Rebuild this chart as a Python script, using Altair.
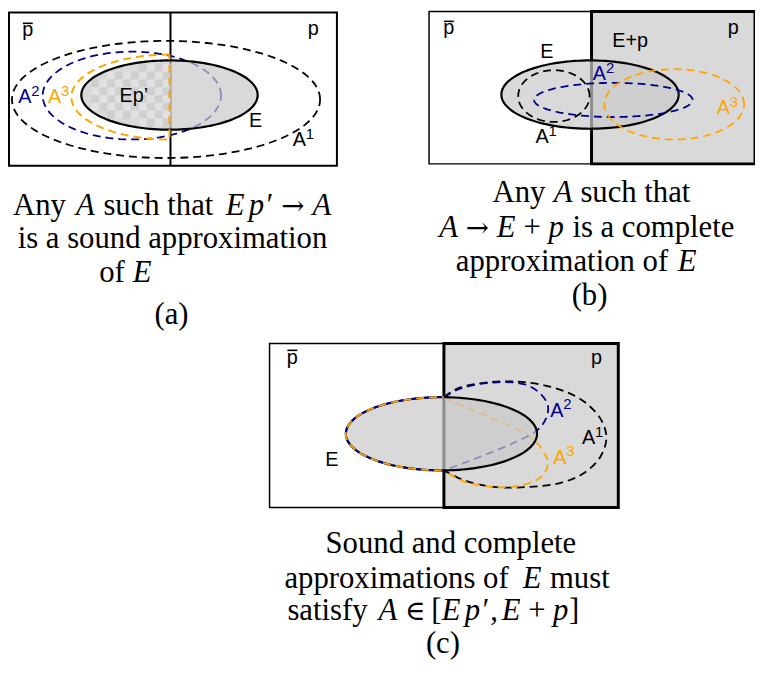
import math
import altair as alt
import pandas as pd

# ---------------- canvas (data coordinates = reference pixels) ----------------
W, H = 754, 670
X_DOMAIN = [8, 762]
Y_DOMAIN = [1.5, 681.5]

NAVY = "#00008b"
ORANGE = "#ffa500"
GRAY = "#d9d9d9"
EFILL = "#c9c9c9"
SANS = "Liberation Sans"
SERIF = "Liberation Serif"
SYMF = "DejaVu Serif"
CAP_SIZE = 31
SYM_SIZE = 28

# ---------------- panel boxes ----------------
box_x0 = [9, 433, 597, 272, 448]
box_x1 = [340, 597, 762, 448, 624]
box_y0 = [3, 2, 2, 342, 342]
box_y1 = [160, 158, 158, 510, 510]
box_fill = ["white", "white", GRAY, "white", GRAY]
box_sw = [2, 1.5, 3, 1.5, 3]

# divider of panel (a)
div_a_x = [172, 172]
div_a_y = [3, 160]

# ---------------- ellipses: cx, cy, rx, ry ----------------
ell_name = ["a_E", "a_A1", "a_A2", "b_E", "b_A1", "b_A2", "b_A3", "c_E"]
ell_cx = [171, 167.5, 133, 595.5, 559, 619, 680.5, 445.5]
ell_cy = [87.5, 92, 88, 87, 88.5, 92.5, 97, 434.5]
ell_rx = [89, 155.5, 90, 89.5, 36, 80, 70.5, 96.5]
ell_ry = [35.5, 60, 45, 35, 26.5, 17.5, 36, 37.5]

# half ellipse A3 of panel (a) (closed by the divider): cx, cy, rx, ry
a_A3 = [171, 89.5, 99, 43.5]

# panel (c): right-hand parts of A1, A2, A3 (curve control points)
c_A1_x = [448, 462, 490, 520, 545, 570, 590, 606, 612, 606, 589, 565, 532, 498, 468, 448]
c_A1_y = [397, 388, 382, 381, 384, 391, 402, 419, 438, 458, 475, 485, 489, 489, 482, 472]
c_A2_x = [448, 465, 498, 530, 546, 553, 551, 542, 520, 497, 472, 448]
c_A2_y = [397, 388, 382, 384, 394, 406, 419, 431, 443, 453, 463, 472]
c_A3_x = [448, 472, 497, 520, 538, 548, 553, 548, 528, 498, 467, 448]
c_A3_y = [398, 408, 419, 429, 440, 452, 464, 477, 487, 489, 483, 472]

# ---------------- labels inside the diagrams ----------------
lab_text = ["p", "p", "Ep’", "E", "p", "p", "E+p", "E", "p", "p", "E"]
lab_x = [28, 316, 135, 258, 453, 740, 636, 552, 295, 602, 335]
lab_y = [27, 26, 95, 120, 25, 25, 38, 50, 363, 363, 467]

# A-labels with superscript index: letter centre x, baseline y, index, colour
alab_x = [25, 55, 302, 605, 730, 547, 562, 594, 565]
alab_y = [96, 96, 140, 72, 107, 137, 417, 445, 465]
alab_sup = ["2", "3", "1", "2", "3", "1", "2", "1", "3"]
alab_color = [NAVY, ORANGE, "black", NAVY, ORANGE, "black", NAVY, "black", ORANGE]

# overline bars of p-bar
bar_x0 = [23, 448, 290]
bar_x1 = [33, 458, 300]
bar_y = [14, 12, 349]

# ---------------- captions ----------------
# token style: 0 upright, 1 italic, 2 math symbol ; "_" = math medium space, "~" thin space
cap_lines = [
    ([("Any", 0), (" ", 0), ("A", 1), (" ", 0), ("such that", 0), (" ", 0),
      ("E", 1), ("~", 0), ("p", 1), ("′", 1), ("_", 0), ("→", 2), ("_", 0), ("A", 1)], 13, 335, 210),
    ([("is a sound approximation", 0)], None, 174, 244),
    ([("of", 0), (" ", 0), ("E", 1)], 100, 153, 279),
    ([("(a)", 0)], None, 173, 322),
    ([("Any", 0), (" ", 0), ("A", 1), (" ", 0), ("such that", 0)], 497, 698, 197),
    ([("A", 1), ("_", 0), ("→", 2), ("_", 0), ("E", 1), ("_", 0), ("+", 0), ("_", 0),
      ("p", 1), (" ", 0), ("is a complete", 0)], 438, 753, 233),
    ([("approximation of", 0), (" ", 0), ("E", 1)], 460, 703, 268),
    ([("(b)", 0)], None, 595, 303),
    ([("Sound and complete", 0)], None, 455, 557),
    ([("approximations of", 0), (" ", 0), ("E", 1), (" ", 0), ("must", 0)], 287, 617, 592),
    ([("satisfy", 0), (" ", 0), ("A", 1), ("_", 0), ("∈", 2), ("_", 0), ("[", 0),
      ("E", 1), ("~", 0), ("p", 1), ("′", 1), (",", 0), ("~", 0), ("E", 1), ("_", 0),
      ("+", 0), ("_", 0), ("p", 1), ("]", 0)], 290, 585, 625),
    ([("(c)", 0)], None, 447, 659),
]

# approximate advance widths (1/1000 em) used to lay out mixed-style lines
UPRIGHT_W = {" ": 250, "_": 220, "~": 110, "A": 722, "S": 556, "n": 500, "y": 500,
             "s": 389, "u": 500, "c": 444, "h": 500, "t": 278, "a": 444, "i": 278,
             "o": 500, "d": 500, "p": 500, "r": 333, "x": 500, "m": 778, "f": 333,
             "e": 444, "l": 278, "b": 500, "(": 333, ")": 333, ",": 250, "[": 333,
             "]": 333, "+": 564}
ITALIC_W = {"A": 611, "E": 611, "p": 500, "′": 300}
SYM_W = {"→": 838, "∈": 667}
SPACES = (" ", "_", "~")


def tok_width(txt, st):
    if st == 2:
        return sum(SYM_W.get(ch, 700) for ch in txt) * SYM_SIZE / 1000.0
    tab = ITALIC_W if st == 1 else UPRIGHT_W
    return sum(tab.get(ch, UPRIGHT_W.get(ch, 500)) for ch in txt) * CAP_SIZE / 1000.0


rows = []
for toks, left, right, base in cap_lines:
    if left is None:
        rows.append({"t": toks[0][0], "x": right, "y": base, "st": 0, "ce": 1})
        continue
    widths = [tok_width(t, s) for t, s in toks]
    nat = sum(widths)
    s = min(max((right - left) / nat, 0.97), 1.04)
    start = (left + right) / 2 - nat * s / 2
    pos = 0.0
    for (t, st), w in zip(toks, widths):
        if t not in SPACES:
            rows.append({"t": t, "x": start + pos * s, "y": base, "st": st, "ce": 0})
        pos += w
df_cap = pd.DataFrame(rows)

# ---------------- helpers ----------------
XS = alt.Scale(domain=X_DOMAIN, nice=False, zero=False)
YS = alt.Scale(domain=Y_DOMAIN, nice=False, zero=False, reverse=True)


def X(f="x"):
    return alt.X(f"{f}:Q", scale=XS, axis=None)


def Y(f="y"):
    return alt.Y(f"{f}:Q", scale=YS, axis=None)


def ell(name):
    k = ell_name.index(name)
    return ell_cx[k], ell_cy[k], ell_rx[k], ell_ry[k]


def arc_pts(cx, cy, rx, ry, t0, t1, n=140):
    xs, ys = [], []
    for j in range(n + 1):
        t = t0 + (t1 - t0) * j / n
        xs.append(cx + rx * math.cos(t))
        ys.append(cy - ry * math.sin(t))
    return xs, ys


def path(xs, ys, color, dash=None, width=1.8, interp="linear", opacity=1.0, offset=0):
    df = pd.DataFrame({"x": xs, "y": ys, "i": list(range(len(xs)))})
    kw = dict(color=color, strokeWidth=width, interpolate=interp, opacity=opacity)
    if dash:
        kw["strokeDash"] = dash
        kw["strokeDashOffset"] = offset
    return alt.Chart(df).mark_line(**kw).encode(x=X(), y=Y(), order="i:Q")


def ellipse_line(name, color, dash=None, width=1.8, offset=0):
    cx, cy, rx, ry = ell(name)
    xs, ys = arc_pts(cx, cy, rx, ry, 0, 2 * math.pi)
    return path(xs, ys, color, dash, width, offset=offset)


def ellipse_fill(name, color, opacity):
    cx, cy, rx, ry = ell(name)
    n = 90
    xs, yt, yb = [], [], []
    for j in range(n + 1):
        t = math.pi - math.pi * j / n
        xs.append(cx + rx * math.cos(t))
        yt.append(cy - ry * math.sin(t))
        yb.append(cy + ry * math.sin(t))
    df = pd.DataFrame({"x": xs, "yt": yt, "yb": yb})
    return alt.Chart(df).mark_area(color=color, opacity=opacity).encode(
        x=X(), y=Y("yt"), y2=alt.Y2("yb:Q"))


DASH = [8, 5]
layers = []

# boxes
df_box = pd.DataFrame({"x0": box_x0, "x1": box_x1, "y0": box_y0, "y1": box_y1})
for k in range(len(box_x0)):
    layers.append(alt.Chart(df_box.iloc[[k]]).mark_rect(
        fill=box_fill[k], stroke="black", strokeWidth=box_sw[k]).encode(
        x=X("x0"), x2=alt.X2("x1:Q"), y=Y("y0"), y2=alt.Y2("y1:Q")))

# ---- panel (a)
layers.append(path(div_a_x, div_a_y, "black", width=2))
layers.append(ellipse_line("a_A2", NAVY, DASH))
layers.append(ellipse_fill("a_E", EFILL, 0.7))
# checker pattern on the Ep' part of E
cx, cy, rx, ry = ell("a_E")
cells = {"x0": [], "x1": [], "y0": [], "y1": [], "c": []}
for ix in range(12):
    x1 = div_a_x[0] - ix * 8
    x0 = x1 - 8
    for iy in range(-6, 6):
        y0 = cy + iy * 8
        y1 = y0 + 8
        inside = all(((px - cx) / rx) ** 2 + ((py - cy) / ry) ** 2 <= 1
                     for px in (x0, x1) for py in (y0, y1))
        if inside:
            cells["x0"].append(x0)
            cells["x1"].append(x1)
            cells["y0"].append(y0)
            cells["y1"].append(y1)
            cells["c"].append("#e1e1e1" if (ix + iy) % 2 == 0 else "#cfcfcf")
layers.append(alt.Chart(pd.DataFrame(cells)).mark_rect().encode(
    x=X("x0"), x2=alt.X2("x1:Q"), y=Y("y0"), y2=alt.Y2("y1:Q"),
    color=alt.Color("c:N", scale=None)))
layers.append(ellipse_line("a_E", "black", width=2.2))
hx, hy = arc_pts(a_A3[0], a_A3[1], a_A3[2], a_A3[3], math.pi / 2, 3 * math.pi / 2)
hx = hx + [hx[0]]
hy = hy + [hy[0]]
layers.append(path(hx, hy, ORANGE, DASH, width=2))
layers.append(ellipse_line("a_A1", "black", DASH))

# ---- panel (b)
layers.append(ellipse_fill("b_E", EFILL, 0.7))
layers.append(ellipse_line("b_E", "black", width=2.2))
layers.append(ellipse_line("b_A1", "black", DASH))
layers.append(ellipse_line("b_A2", NAVY, DASH))
layers.append(ellipse_line("b_A3", ORANGE, DASH))

# ---- panel (c)
layers.append(path(c_A1_x, c_A1_y, "black", DASH, interp="catmull-rom"))
layers.append(path(c_A3_x, c_A3_y, ORANGE, DASH, interp="catmull-rom"))
layers.append(path(c_A2_x, c_A2_y, NAVY, DASH, interp="catmull-rom"))
layers.append(ellipse_fill("c_E", EFILL, 0.7))
layers.append(ellipse_line("c_E", "black", width=2.2))
cx, cy, rx, ry = ell("c_E")
t0 = math.acos((448 - cx) / rx)
lx, ly = arc_pts(cx, cy, rx, ry, t0, 2 * math.pi - t0)
layers.append(path(lx, ly, NAVY, DASH))
layers.append(path(lx, ly, ORANGE, DASH, offset=6))

# ---- labels
df_lab = pd.DataFrame({"t": lab_text, "x": lab_x, "y": lab_y})
layers.append(alt.Chart(df_lab).mark_text(
    font=SANS, fontSize=20, align="center", baseline="alphabetic", color="black").encode(
    x=X(), y=Y(), text="t:N"))
df_al = pd.DataFrame({"x": alab_x, "y": alab_y, "s": alab_sup, "c": alab_color,
                      "A": ["A"] * len(alab_x)})
df_al["xs"] = df_al["x"] + 6.5
df_al["ys"] = df_al["y"] - 7.5
layers.append(alt.Chart(df_al).mark_text(
    font=SANS, fontSize=20, align="center", baseline="alphabetic").encode(
    x=X(), y=Y(), text="A:N", color=alt.Color("c:N", scale=None)))
layers.append(alt.Chart(df_al).mark_text(
    font=SANS, fontSize=15, align="left", baseline="alphabetic").encode(
    x=X("xs"), y=Y("ys"), text="s:N", color=alt.Color("c:N", scale=None)))
df_bar = pd.DataFrame({"x0": bar_x0, "x1": bar_x1, "y": bar_y})
layers.append(alt.Chart(df_bar).mark_rule(color="black", strokeWidth=1.6).encode(
    x=X("x0"), x2=alt.X2("x1:Q"), y=Y()))

# ---- captions
for st in (0, 1, 2):
    for ce in (0, 1):
        sub = df_cap[(df_cap.st == st) & (df_cap.ce == ce)]
        if len(sub) == 0:
            continue
        kw = dict(font=SYMF if st == 2 else SERIF,
                  fontSize=SYM_SIZE if st == 2 else CAP_SIZE,
                  baseline="alphabetic",
                  align="center" if ce else "left", color="black")
        if st == 1:
            kw["fontStyle"] = "italic"
        layers.append(alt.Chart(sub).mark_text(**kw).encode(
            x=X(), y=Y(), text="t:N"))

chart = alt.layer(*layers).properties(
    width=W, height=H,
    autosize=alt.AutoSizeParams(type="none"),
    padding=0,
    background="white",
).configure_view(stroke=None)

chart.save("out.html", embed_options={"renderer": "svg", "actions": False})
